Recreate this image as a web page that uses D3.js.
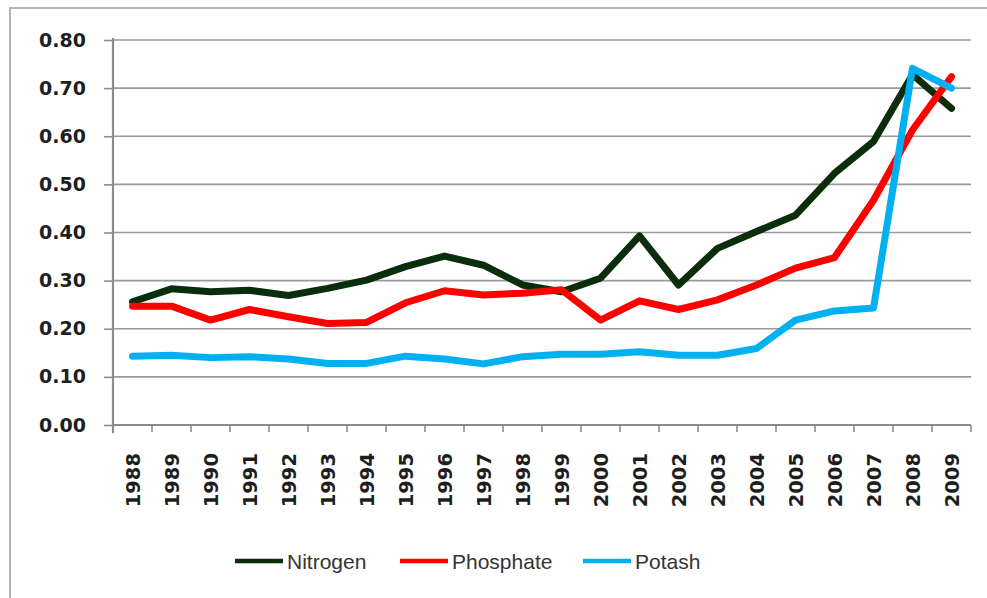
<!DOCTYPE html>
<html>
<head>
<meta charset="utf-8">
<script src="https://cdn.jsdelivr.net/npm/d3@7"></script>
<style>
  html, body { margin: 0; padding: 0; background: #fff; }
  svg { display: block; }
</style>
</head>
<body>
<svg id="chart" width="987" height="598"></svg>
<script>
const years = ["1988","1989","1990","1991","1992","1993","1994","1995","1996","1997","1998","1999","2000","2001","2002","2003","2004","2005","2006","2007","2008","2009"];
const nitrogen  = [0.256,0.283,0.277,0.280,0.269,0.284,0.301,0.329,0.351,0.332,0.291,0.277,0.305,0.393,0.291,0.367,0.402,0.436,0.523,0.589,0.728,0.658];
const phosphate = [0.247,0.247,0.218,0.240,0.225,0.211,0.213,0.254,0.279,0.270,0.274,0.281,0.218,0.258,0.240,0.260,0.291,0.326,0.348,0.467,0.613,0.724];
const potash    = [0.143,0.145,0.140,0.142,0.137,0.128,0.128,0.143,0.137,0.127,0.142,0.147,0.147,0.152,0.145,0.145,0.159,0.218,0.237,0.243,0.741,0.700];
const yTicks = [0,0.1,0.2,0.3,0.4,0.5,0.6,0.7,0.8];
const seriesNames = ["Nitrogen","Phosphate","Potash"];
const seriesColors = ["#0a2e0c","#ff0000","#00b0f0"];
const seriesData = [nitrogen, phosphate, potash];

const svg = d3.select("#chart");

// outer frame
svg.append("rect").attr("x",10).attr("y",8).attr("width",1000).attr("height",1000)
  .attr("fill","none").attr("stroke","#b4b4b4").attr("stroke-width",2);

const x = d3.scaleBand().domain(years).range([113, 971]).padding(0);
const y = d3.scaleLinear().domain([0, 0.8]).range([425, 40]);

// gridlines
svg.append("g").selectAll("line").data(yTicks.filter(d => d > 0)).join("line")
  .attr("x1", 113).attr("x2", 971)
  .attr("y1", d => y(d)).attr("y2", d => y(d))
  .attr("stroke", "#9a9a9a").attr("stroke-width", 1.6);

// y axis
const yAxis = d3.axisLeft(y).tickValues(yTicks).tickFormat(d3.format(".2f")).tickSize(9).tickPadding(18);
const gy = svg.append("g").attr("transform","translate(113,0)").call(yAxis);
gy.select(".domain").remove();
gy.selectAll(".tick line").attr("stroke","#8c8c8c").attr("stroke-width",1.6);
gy.selectAll(".tick text").attr("font-family","DejaVu Sans, Verdana, sans-serif")
  .attr("font-weight","bold").attr("font-size","19px").attr("fill","#1e1e1e");
svg.append("line").attr("x1",113).attr("x2",113).attr("y1",y(0.8)-2).attr("y2",433)
  .attr("stroke","#8c8c8c").attr("stroke-width",2.2);

// x axis
svg.append("line").attr("x1",113).attr("x2",971).attr("y1",y(0)).attr("y2",y(0))
  .attr("stroke","#8c8c8c").attr("stroke-width",2);
const boundaries = years.map(d => x(d)).concat([x.range()[1]]);
svg.append("g").selectAll("line").data(boundaries.slice(1)).join("line")
  .attr("x1", d => d).attr("x2", d => d).attr("y1", y(0)).attr("y2", y(0) + 7)
  .attr("stroke","#8c8c8c").attr("stroke-width",1.6);
svg.append("g").selectAll("text").data(years).join("text")
  .attr("transform", d => `translate(${x(d) + x.bandwidth()/2},453) rotate(-90)`)
  .attr("text-anchor","end").attr("dy","0.36em")
  .attr("font-family","DejaVu Sans, Verdana, sans-serif").attr("font-weight","bold")
  .attr("font-size","19.5px").attr("fill","#1e1e1e")
  .text(d => d);

// lines
const line = d3.line().x((d,i) => x(years[i]) + x.bandwidth()/2).y(d => y(d));
seriesData.forEach((s, k) => {
  svg.append("path").datum(s).attr("d", line)
    .attr("fill","none").attr("stroke", seriesColors[k]).attr("stroke-width", 7)
    .attr("stroke-linejoin","round").attr("stroke-linecap","round");
});

// legend
const legendX = [235, 400, 583];
const legend = svg.append("g");
seriesNames.forEach((n, k) => {
  legend.append("line").attr("x1", legendX[k]).attr("x2", legendX[k] + 48)
    .attr("y1", 561).attr("y2", 561).attr("stroke", seriesColors[k]).attr("stroke-width", 4.5);
  legend.append("text").attr("x", legendX[k] + 52).attr("y", 562).attr("dy","0.35em")
    .attr("font-family","Liberation Sans, Arial, sans-serif").attr("font-size","21px")
    .attr("fill","#333").text(n);
});
</script>
</body>
</html>
